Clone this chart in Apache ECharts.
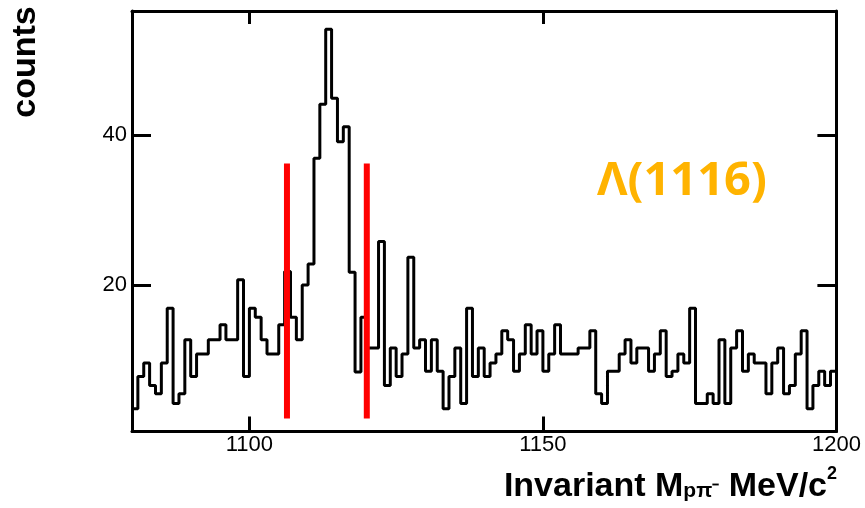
<!DOCTYPE html>
<html><head><meta charset="utf-8">
<script src="https://cdn.jsdelivr.net/npm/echarts@6/dist/echarts.min.js"></script>
<style>html,body{margin:0;padding:0;background:#fff}#c{width:865px;height:508px}</style>
</head><body><div id="c"></div>
<script>
// histogram: 120 bins of 1 MeV from 1080 to 1200
const binStart = 1080;
const binWidth = 1;
const counts = [
  3.5, 7.8, 9.6, 6.6, 5.5, 9.6, 16.9, 4.2, 5.5, 12.7,
  7.8, 10.8, 10.8, 12.7, 12.7, 14.7, 12.7, 12.7, 20.7, 7.8,
  16.9, 15.7, 12.7, 10.8, 10.8, 14.7, 21.8, 15.7, 12.7, 20.0,
  22.8, 36.9, 44.1, 54.1, 44.9, 39.1, 41.1, 21.7, 8.4, 15.7,
  11.6, 11.6, 25.8, 6.6, 11.6, 7.8, 10.8, 23.7, 11.6, 12.7,
  8.5, 12.7, 8.5, 3.5, 7.8, 11.6, 4.2, 16.9, 7.8, 11.6,
  7.8, 9.6, 10.8, 13.9, 12.7, 8.5, 10.8, 14.7, 10.8, 13.9,
  8.5, 10.8, 14.7, 10.8, 10.8, 10.8, 11.6, 11.6, 13.9, 5.5,
  4.2, 8.5, 8.5, 10.8, 12.7, 9.6, 11.6, 11.6, 8.5, 10.8,
  13.9, 7.8, 8.5, 10.8, 9.6, 16.9, 4.2, 4.2, 5.5, 4.2,
  12.7, 4.2, 11.6, 13.9, 8.5, 10.8, 9.6, 9.6, 5.5, 9.6,
  11.6, 5.5, 6.6, 10.8, 13.9, 3.5, 6.6, 8.5, 6.6, 8.5
];
const xTicks = [1100, 1150, 1200];
const yTicks = [20, 40];
const xRange = [1080, 1200];
const yRange = [0.45, 56.55];
const cutLow = 1106.4;
const cutHigh = 1120.0;
const cutSpan = [2.2, 36.2];
const peakLabel = 'Λ(1116)';
const yTitle = 'counts';

const histData = counts.map((v, i) => [binStart + i * binWidth, v]);
histData.push([binStart + counts.length * binWidth, counts[counts.length - 1]]);

const chart = echarts.init(document.getElementById('c'), null, {renderer: 'canvas'});
const axisLineStyle = {color: '#000', width: 3};
const labelFont = {fontFamily: 'Liberation Sans, Arial, sans-serif', fontSize: 22, color: '#000'};
const plain = v => String(v);

chart.setOption({
  animation: false,
  backgroundColor: '#fff',
  grid: {left: 132, right: 28.6, top: 10.9, bottom: 76.4, containLabel: false},
  xAxis: [
    {type: 'value', min: xRange[0], max: xRange[1], position: 'bottom',
     axisLine: {show: true, onZero: false, lineStyle: axisLineStyle},
     axisTick: {show: true, inside: true, length: 15, customValues: xTicks, lineStyle: axisLineStyle},
     axisLabel: Object.assign({show: true, customValues: xTicks, margin: 2, formatter: plain}, labelFont),
     splitLine: {show: false}, minorTick: {show: false}},
    {type: 'value', min: xRange[0], max: xRange[1], position: 'top',
     axisLine: {show: true, onZero: false, lineStyle: axisLineStyle},
     axisTick: {show: true, inside: true, length: 13, customValues: xTicks, lineStyle: axisLineStyle},
     axisLabel: {show: false}, splitLine: {show: false}}
  ],
  yAxis: [
    {type: 'value', min: yRange[0], max: yRange[1], position: 'left',
     axisLine: {show: true, onZero: false, lineStyle: axisLineStyle},
     axisTick: {show: true, inside: true, length: 19, customValues: yTicks, lineStyle: axisLineStyle},
     axisLabel: Object.assign({show: true, customValues: yTicks, margin: 5, formatter: plain}, labelFont),
     splitLine: {show: false}},
    {type: 'value', min: yRange[0], max: yRange[1], position: 'right',
     axisLine: {show: true, onZero: false, lineStyle: axisLineStyle},
     axisTick: {show: true, inside: true, length: 19, customValues: yTicks, lineStyle: axisLineStyle},
     axisLabel: {show: false}, splitLine: {show: false}}
  ],
  series: [
    {type: 'line', name: 'hist', step: 'end', data: histData, showSymbol: false, symbol: 'none',
     lineStyle: {color: '#000', width: 3}, xAxisIndex: 0, yAxisIndex: 0, z: 2, clip: true},
    {type: 'line', name: 'cutLow', data: [[cutLow, cutSpan[0]], [cutLow, cutSpan[1]]], showSymbol: false, symbol: 'none',
     lineStyle: {color: '#ff0000', width: 6, cap: 'butt'}, z: 3},
    {type: 'line', name: 'cutHigh', data: [[cutHigh, cutSpan[0]], [cutHigh, cutSpan[1]]], showSymbol: false, symbol: 'none',
     lineStyle: {color: '#ff0000', width: 6, cap: 'butt'}, z: 3}
  ],
  graphic: [
    {type: 'text', left: 597, top: 158, z: 10,
     style: {text: peakLabel, fill: '#ffb300', font: 'bold 47px "Open Sans", "Liberation Sans", sans-serif'}},
    {type: 'text', x: 43, y: 62, rotation: Math.PI / 2, z: 10,
     style: {text: yTitle, fill: '#000', font: 'bold 34px "Liberation Sans", Arial, sans-serif',
             align: 'center', verticalAlign: 'bottom'}},
    {type: 'text', right: 28, top: 465, z: 10,
     style: {
       text: '{a|Invariant M}{s|pπ⁻}{a| MeV/c}{p|2}',
       rich: {
         a: {font: 'bold 34px "Liberation Sans", Arial, sans-serif', fill: '#000', verticalAlign: 'bottom', lineHeight: 40},
         s: {font: 'bold 21px "Liberation Sans", Arial, sans-serif', fill: '#000', padding: [16, 0, 0, 0], lineHeight: 40},
         p: {font: 'bold 18px "Liberation Sans", Arial, sans-serif', fill: '#000', padding: [0, 0, 18, 0], lineHeight: 40}
       }
     }}
  ]
});
</script>
</body></html>
